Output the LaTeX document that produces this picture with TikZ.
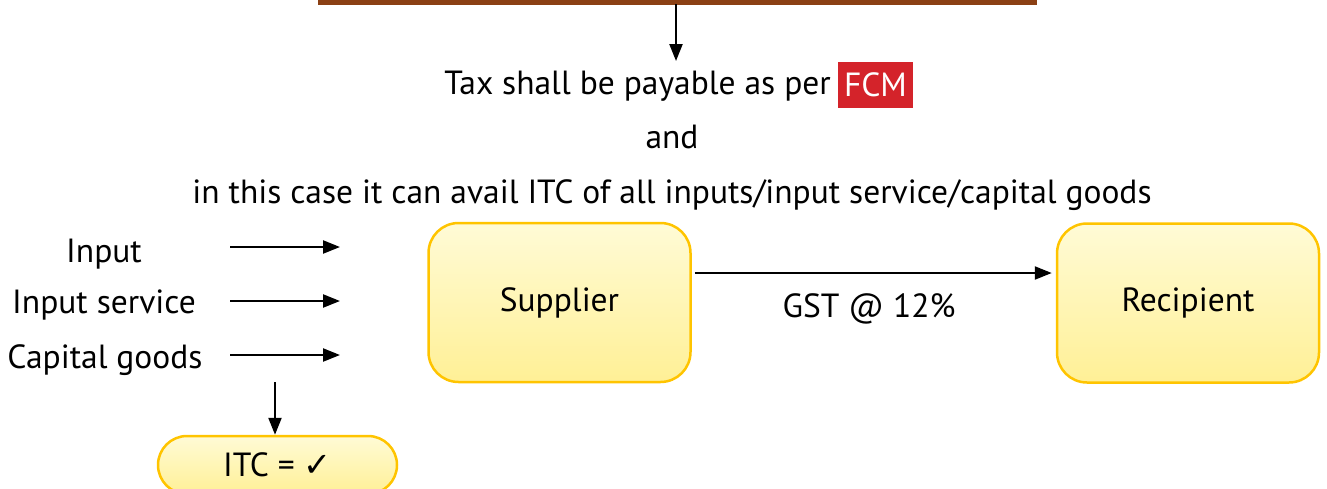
\documentclass[tikz,border=0pt]{standalone}
\usepackage{fontspec}
\setmainfont{PT Sans}
\newfontfamily\symfont{DejaVu Sans}
\usetikzlibrary{arrows.meta}
\definecolor{brownbar}{RGB}{139,64,20}
\definecolor{boxborder}{RGB}{255,196,0}
\definecolor{boxtop}{RGB}{255,251,214}
\definecolor{boxbot}{RGB}{255,240,150}
\definecolor{fcmred}{RGB}{212,35,42}
\begin{document}
\begin{tikzpicture}[x=1pt,y=-1pt,
  font=\fontsize{33.5}{40}\selectfont,
  arr/.style={-{Triangle[length=17pt,width=13pt]}, line width=2.3pt},
  ybox/.style={draw=boxborder, line width=2.5pt, rounded corners=30pt,
    top color=boxtop, bottom color=boxbot, inner sep=0pt,
    minimum width=262pt, minimum height=159pt},
  txt/.style={inner sep=0pt, anchor=base}]
\useasboundingbox (0,0) rectangle (1327,488);
\fill[brownbar] (318,0) rectangle (1037,4.5);
\coordinate (bar) at (676,4);
\coordinate (taxtop) at (676,61);
\draw[arr] (bar) -- (taxtop);
\node[txt, anchor=base east] (tax) at (831,94) {Tax shall be payable as per};
\node[fill=fcmred, text=white, inner sep=0pt, minimum width=75pt, minimum height=46pt] (fcm) at (875.5,85) {FCM};
\node[txt] (and) at (672,148) {and};
\node[txt] (itcline) at (672,203) {in this case it can avail ITC of all inputs/input service/capital goods};
\node[txt] (inp) at (104,262) {Input};
\node[txt] (inps) at (104,313) {Input service};
\node[txt] (cap) at (105,368) {Capital goods};
\coordinate (a1s) at (230,247); \coordinate (a1e) at (340,247);
\coordinate (a2s) at (230,301); \coordinate (a2e) at (340,301);
\coordinate (a3s) at (230,355); \coordinate (a3e) at (340,355);
\draw[arr] (a1s) -- (a1e);
\draw[arr] (a2s) -- (a2e);
\draw[arr] (a3s) -- (a3e);
\node[ybox] (sup) at (559.5,302.5) {Supplier};
\node[ybox] (rec) at (1188,303) {Recipient};
\coordinate (gy) at (0,273);
\draw[arr, shorten <=3pt, shorten >=4pt] (sup.east |- gy) -- (rec.west |- gy);
\node[txt] (gst) at (869,317) {GST @ 12\%};
\node[ybox, rounded corners=29pt, minimum width=239pt, minimum height=58pt] (itc) at (277.5,465) {ITC = {\symfont ✓}};
\coordinate (cgdown) at (275,382);
\draw[arr] (cgdown) -- (cgdown |- itc.north);
\end{tikzpicture}
\end{document}
